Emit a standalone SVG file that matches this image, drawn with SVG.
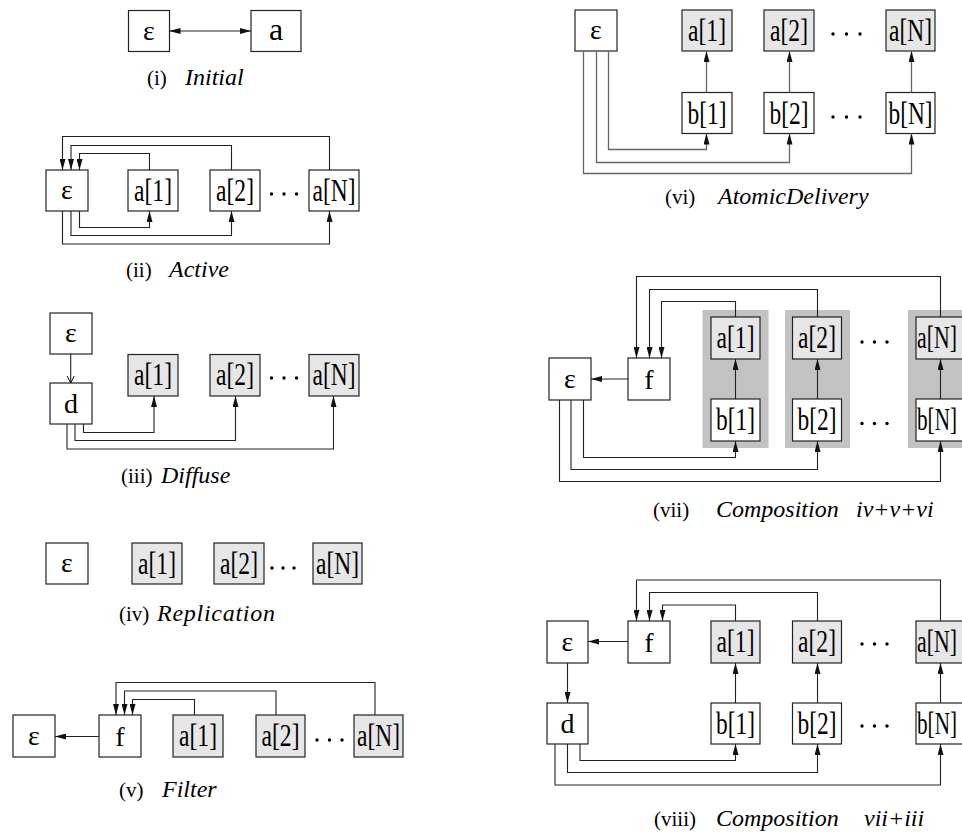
<svg xmlns="http://www.w3.org/2000/svg" width="962" height="835" viewBox="0 0 962 835">
<style>
.box{fill:#fff;stroke:#222;stroke-width:1.2}
.gbox{fill:#e6e6e6;stroke:#222;stroke-width:1.2}
.panel{fill:#c2c2c2}
.lbl{font-family:"Liberation Serif","Times New Roman",serif;font-size:31px;text-anchor:middle;fill:#000}
.sym{font-family:"Liberation Serif","Times New Roman",serif;font-size:28px;text-anchor:middle;fill:#000}
.cap{font-family:"Liberation Serif","Times New Roman",serif;font-size:21px;fill:#000}
.it{font-style:italic;font-size:24px}
.conn{fill:none;stroke:#222;stroke-width:1.1}
.conn2{fill:none;stroke:#666;stroke-width:1.3}
.dot{fill:#000}
</style>
<defs>
<marker id="ah" viewBox="0 0 11 6" refX="11" refY="3" markerWidth="11" markerHeight="6" markerUnits="userSpaceOnUse" orient="auto-start-reverse"><path d="M0,0 L11,3 L0,6 z" fill="#111"/></marker>
<marker id="oh" viewBox="0 0 8 8" refX="7.5" refY="4" markerWidth="8" markerHeight="8" markerUnits="userSpaceOnUse" orient="auto"><path d="M0.5,0.5 L7.5,4 L0.5,7.5" fill="none" stroke="#111" stroke-width="1"/></marker>
</defs>

<!-- (i) Initial -->
<g id="p1">
<g id="p1-eps"><rect class="box" x="128.5" y="10.5" width="41" height="41"/><text class="sym" x="149" y="40">ε</text></g>
<g id="p1-a"><rect class="box" x="251" y="10.5" width="50" height="41"/><text class="sym" x="276" y="40" style="font-size:32px">a</text></g>
<g id="p1-conn"><path class="conn" d="M169.5,31 H251" marker-start="url(#ah)" marker-end="url(#ah)"/></g>
<text class="cap" x="147" y="84.5">(i)<tspan class="it" x="185">Initial</tspan></text>
</g>

<!-- (ii) Active -->
<g id="p2">
<g id="p2-eps"><rect class="box" x="46" y="170" width="42" height="41"/><text class="sym" x="67" y="199">ε</text></g>
<g id="p2-a1"><rect class="box" x="128" y="170" width="50" height="41"/><text class="lbl" x="153" y="201" textLength="38" lengthAdjust="spacingAndGlyphs">a[1]</text></g>
<g id="p2-a2"><rect class="box" x="210" y="170" width="50" height="41"/><text class="lbl" x="235" y="201" textLength="38" lengthAdjust="spacingAndGlyphs">a[2]</text></g>
<g id="p2-aN"><rect class="box" x="309" y="170" width="50" height="41"/><text class="lbl" x="334" y="201" textLength="43" lengthAdjust="spacingAndGlyphs">a[N]</text></g>
<g id="p2-dots"><circle class="dot" cx="271.5" cy="194" r="1.7"/><circle class="dot" cx="284" cy="194" r="1.7"/><circle class="dot" cx="296.5" cy="194" r="1.7"/></g>
<g id="p2-conn">
<path class="conn" d="M329.5,170 V136.5 H62.5 V170" marker-end="url(#ah)"/>
<path class="conn" d="M231.5,170 V145.5 H71 V170" marker-end="url(#ah)"/>
<path class="conn" d="M149.5,170 V153.5 H79.5 V170" marker-end="url(#ah)"/>
<path class="conn" d="M79.5,211 V227.5 H149.5 V211" marker-end="url(#ah)"/>
<path class="conn" d="M71,211 V235.5 H231.5 V211" marker-end="url(#ah)"/>
<path class="conn" d="M62.5,211 V244 H329.5 V211" marker-end="url(#ah)"/>
</g>
<text class="cap" x="126" y="277">(ii)<tspan class="it" x="169">Active</tspan></text>
</g>

<!-- (iii) Diffuse -->
<g id="p3">
<g id="p3-eps"><rect class="box" x="50" y="313" width="42" height="41"/><text class="sym" x="71" y="342">ε</text></g>
<g id="p3-d"><rect class="box" x="50" y="383" width="42" height="41"/><text class="sym" x="71" y="413">d</text></g>
<g id="p3-a1"><rect class="gbox" x="128" y="354.5" width="50" height="41.5"/><text class="lbl" x="153" y="385" textLength="38" lengthAdjust="spacingAndGlyphs">a[1]</text></g>
<g id="p3-a2"><rect class="gbox" x="210" y="354.5" width="50" height="41.5"/><text class="lbl" x="235" y="385" textLength="38" lengthAdjust="spacingAndGlyphs">a[2]</text></g>
<g id="p3-aN"><rect class="gbox" x="309" y="354.5" width="50" height="41.5"/><text class="lbl" x="334" y="385" textLength="43" lengthAdjust="spacingAndGlyphs">a[N]</text></g>
<g id="p3-dots"><circle class="dot" cx="271.5" cy="378" r="1.7"/><circle class="dot" cx="284" cy="378" r="1.7"/><circle class="dot" cx="296.5" cy="378" r="1.7"/></g>
<g id="p3-conn">
<path class="conn" d="M70.7,354 V383" marker-end="url(#oh)"/>
<path class="conn" d="M83.5,424 V432.5 H154 V396" marker-end="url(#ah)"/>
<path class="conn" d="M75,424 V440.5 H235.5 V396" marker-end="url(#ah)"/>
<path class="conn" d="M67,424 V449 H333.5 V396" marker-end="url(#ah)"/>
</g>
<text class="cap" x="121" y="483">(iii)<tspan class="it" x="161">Diffuse</tspan></text>
</g>

<!-- (iv) Replication -->
<g id="p4">
<g id="p4-eps"><rect class="box" x="46" y="543" width="42" height="41"/><text class="sym" x="67" y="572">ε</text></g>
<g id="p4-a1"><rect class="gbox" x="132" y="543" width="50" height="41"/><text class="lbl" x="157" y="574" textLength="38" lengthAdjust="spacingAndGlyphs">a[1]</text></g>
<g id="p4-a2"><rect class="gbox" x="214" y="543" width="50" height="41"/><text class="lbl" x="239" y="574" textLength="38" lengthAdjust="spacingAndGlyphs">a[2]</text></g>
<g id="p4-aN"><rect class="gbox" x="313" y="543" width="49" height="41"/><text class="lbl" x="337.5" y="574" textLength="43" lengthAdjust="spacingAndGlyphs">a[N]</text></g>
<g id="p4-dots"><circle class="dot" cx="272" cy="568" r="1.7"/><circle class="dot" cx="283" cy="568" r="1.7"/><circle class="dot" cx="294" cy="568" r="1.7"/></g>
<text class="cap" x="119" y="621">(iv)<tspan class="it" x="157" textLength="118">Replication</tspan></text>
</g>

<!-- (v) Filter -->
<g id="p5">
<g id="p5-eps"><rect class="box" x="13" y="715" width="42" height="42"/><text class="sym" x="34" y="745">ε</text></g>
<g id="p5-f"><rect class="box" x="99" y="715" width="42" height="42"/><text class="sym" x="120" y="746">f</text></g>
<g id="p5-a1"><rect class="gbox" x="173" y="715" width="50" height="42"/><text class="lbl" x="198" y="746" textLength="38" lengthAdjust="spacingAndGlyphs">a[1]</text></g>
<g id="p5-a2"><rect class="gbox" x="256" y="715" width="49" height="42"/><text class="lbl" x="280.5" y="746" textLength="38" lengthAdjust="spacingAndGlyphs">a[2]</text></g>
<g id="p5-aN"><rect class="gbox" x="354" y="715" width="49" height="42"/><text class="lbl" x="378.5" y="746" textLength="43" lengthAdjust="spacingAndGlyphs">a[N]</text></g>
<g id="p5-dots"><circle class="dot" cx="317" cy="740" r="1.7"/><circle class="dot" cx="329.5" cy="740" r="1.7"/><circle class="dot" cx="342" cy="740" r="1.7"/></g>
<g id="p5-conn">
<path class="conn" d="M99,736.5 H55" marker-end="url(#ah)"/>
<path class="conn" d="M375,715 V682.5 H116 V715" marker-end="url(#ah)"/>
<path class="conn" d="M276,715 V691 H124.5 V715" marker-end="url(#ah)"/>
<path class="conn" d="M194.5,715 V699.5 H132.5 V715" marker-end="url(#ah)"/>
</g>
<text class="cap" x="119" y="797">(v)<tspan class="it" x="162">Filter</tspan></text>
</g>

<!-- (vi) AtomicDelivery -->
<g id="p6">
<g id="p6-eps"><rect class="box" x="575" y="10" width="42" height="41"/><text class="sym" x="596" y="39">ε</text></g>
<g id="p6-a1"><rect class="gbox" x="682" y="10" width="50" height="41"/><text class="lbl" x="707" y="41" textLength="38" lengthAdjust="spacingAndGlyphs">a[1]</text></g>
<g id="p6-a2"><rect class="gbox" x="764" y="10" width="50" height="41"/><text class="lbl" x="789" y="41" textLength="38" lengthAdjust="spacingAndGlyphs">a[2]</text></g>
<g id="p6-aN"><rect class="gbox" x="886" y="10" width="49" height="41"/><text class="lbl" x="910.5" y="41" textLength="43" lengthAdjust="spacingAndGlyphs">a[N]</text></g>
<g id="p6-b1"><rect class="box" x="682" y="92.5" width="50" height="41"/><text class="lbl" x="707" y="123.5" textLength="39" lengthAdjust="spacingAndGlyphs">b[1]</text></g>
<g id="p6-b2"><rect class="box" x="764" y="92.5" width="50" height="41"/><text class="lbl" x="789" y="123.5" textLength="39" lengthAdjust="spacingAndGlyphs">b[2]</text></g>
<g id="p6-bN"><rect class="box" x="886" y="92.5" width="49" height="41"/><text class="lbl" x="910.5" y="123.5" textLength="44" lengthAdjust="spacingAndGlyphs">b[N]</text></g>
<g id="p6-dots"><circle class="dot" cx="833" cy="34" r="1.7"/><circle class="dot" cx="846.5" cy="34" r="1.7"/><circle class="dot" cx="860" cy="34" r="1.7"/><circle class="dot" cx="833" cy="117" r="1.7"/><circle class="dot" cx="846.5" cy="117" r="1.7"/><circle class="dot" cx="860" cy="117" r="1.7"/></g>
<g id="p6-conn">
<path class="conn2" d="M706.5,92.5 V51" marker-end="url(#ah)"/>
<path class="conn2" d="M789.5,92.5 V51" marker-end="url(#ah)"/>
<path class="conn2" d="M911.5,92.5 V51" marker-end="url(#ah)"/>
<path class="conn2" d="M608.5,51 V149.5 H706.5 V133.5" marker-end="url(#ah)"/>
<path class="conn2" d="M596.5,51 V162.5 H789.5 V133.5" marker-end="url(#ah)"/>
<path class="conn2" d="M583.5,51 V173.5 H911.5 V133.5" marker-end="url(#ah)"/>
</g>
<text class="cap" x="665" y="204">(vi)<tspan class="it" x="718">AtomicDelivery</tspan></text>
</g>

<!-- (vii) Composition iv+v+vi -->
<g id="p7">
<g id="p7-panels"><rect class="panel" x="702.5" y="310" width="66" height="138"/><rect class="panel" x="785" y="310" width="65" height="138"/><rect class="panel" x="908" y="310" width="60" height="138"/></g>
<g id="p7-eps"><rect class="box" x="549" y="358" width="42" height="42"/><text class="sym" x="570" y="388">ε</text></g>
<g id="p7-f"><rect class="box" x="628" y="358" width="42" height="42"/><text class="sym" x="649" y="389">f</text></g>
<g id="p7-a1"><rect class="gbox" x="711" y="317" width="49" height="42"/><text class="lbl" x="735.5" y="348" textLength="38" lengthAdjust="spacingAndGlyphs">a[1]</text></g>
<g id="p7-a2"><rect class="gbox" x="792.5" y="317" width="49" height="42"/><text class="lbl" x="817" y="348" textLength="38" lengthAdjust="spacingAndGlyphs">a[2]</text></g>
<g id="p7-aN"><rect class="gbox" x="916" y="317" width="50" height="42"/><text class="lbl" x="937" y="348" textLength="40" lengthAdjust="spacingAndGlyphs">a[N]</text></g>
<g id="p7-b1"><rect class="box" x="711" y="399" width="49" height="42"/><text class="lbl" x="735.5" y="430" textLength="39" lengthAdjust="spacingAndGlyphs">b[1]</text></g>
<g id="p7-b2"><rect class="box" x="792.5" y="399" width="49" height="42"/><text class="lbl" x="817" y="430" textLength="39" lengthAdjust="spacingAndGlyphs">b[2]</text></g>
<g id="p7-bN"><rect class="box" x="916" y="399" width="50" height="42"/><text class="lbl" x="937" y="430" textLength="40" lengthAdjust="spacingAndGlyphs">b[N]</text></g>
<g id="p7-dots"><circle class="dot" cx="862" cy="342" r="1.7"/><circle class="dot" cx="874.5" cy="342" r="1.7"/><circle class="dot" cx="887" cy="342" r="1.7"/><circle class="dot" cx="862" cy="423.5" r="1.7"/><circle class="dot" cx="874.5" cy="423.5" r="1.7"/><circle class="dot" cx="887" cy="423.5" r="1.7"/></g>
<g id="p7-conn">
<path class="conn" d="M628,379 H591" marker-end="url(#ah)"/>
<path class="conn" d="M735.5,399 V359" marker-end="url(#ah)"/>
<path class="conn" d="M817.5,399 V359" marker-end="url(#ah)"/>
<path class="conn" d="M940.5,399 V359" marker-end="url(#ah)"/>
<path class="conn" d="M940.5,317 V276.5 H636.5 V358" marker-end="url(#ah)"/>
<path class="conn" d="M817.5,317 V289.5 H649.5 V358" marker-end="url(#ah)"/>
<path class="conn" d="M735.5,317 V301.5 H661.5 V358" marker-end="url(#ah)"/>
<path class="conn" d="M583.5,400 V457.5 H735.5 V441" marker-end="url(#ah)"/>
<path class="conn" d="M571,400 V469.5 H817.5 V441" marker-end="url(#ah)"/>
<path class="conn" d="M559.5,400 V481.5 H940.5 V441" marker-end="url(#ah)"/>
</g>
<text class="cap" x="653" y="517">(vii)<tspan class="it" x="716">Composition</tspan><tspan class="it" x="856">iv+v+vi</tspan></text>
</g>

<!-- (viii) Composition vii+iii -->
<g id="p8">
<g id="p8-eps"><rect class="box" x="547" y="621" width="41" height="42"/><text class="sym" x="567.5" y="651">ε</text></g>
<g id="p8-f"><rect class="box" x="628" y="621" width="42" height="42"/><text class="sym" x="649" y="652">f</text></g>
<g id="p8-a1"><rect class="gbox" x="711" y="621" width="49" height="42"/><text class="lbl" x="735.5" y="652" textLength="38" lengthAdjust="spacingAndGlyphs">a[1]</text></g>
<g id="p8-a2"><rect class="gbox" x="792.5" y="621" width="49" height="42"/><text class="lbl" x="817" y="652" textLength="38" lengthAdjust="spacingAndGlyphs">a[2]</text></g>
<g id="p8-aN"><rect class="gbox" x="916" y="621" width="50" height="42"/><text class="lbl" x="937" y="652" textLength="40" lengthAdjust="spacingAndGlyphs">a[N]</text></g>
<g id="p8-d"><rect class="box" x="547" y="703" width="41" height="41"/><text class="sym" x="567.5" y="733">d</text></g>
<g id="p8-b1"><rect class="box" x="711" y="703" width="49" height="41"/><text class="lbl" x="735.5" y="734" textLength="39" lengthAdjust="spacingAndGlyphs">b[1]</text></g>
<g id="p8-b2"><rect class="box" x="792.5" y="703" width="49" height="41"/><text class="lbl" x="817" y="734" textLength="39" lengthAdjust="spacingAndGlyphs">b[2]</text></g>
<g id="p8-bN"><rect class="box" x="916" y="703" width="50" height="41"/><text class="lbl" x="937" y="734" textLength="40" lengthAdjust="spacingAndGlyphs">b[N]</text></g>
<g id="p8-dots"><circle class="dot" cx="862" cy="644" r="1.7"/><circle class="dot" cx="874.5" cy="644" r="1.7"/><circle class="dot" cx="887" cy="644" r="1.7"/><circle class="dot" cx="862" cy="726" r="1.7"/><circle class="dot" cx="874.5" cy="726" r="1.7"/><circle class="dot" cx="887" cy="726" r="1.7"/></g>
<g id="p8-conn">
<path class="conn" d="M628,641.5 H588" marker-end="url(#ah)"/>
<path class="conn" d="M567.5,663 V703" marker-end="url(#ah)"/>
<path class="conn" d="M735.5,703 V663" marker-end="url(#ah)"/>
<path class="conn" d="M817.5,703 V663" marker-end="url(#ah)"/>
<path class="conn" d="M940.5,703 V663" marker-end="url(#ah)"/>
<path class="conn" d="M940.5,621 V580 H636.5 V621" marker-end="url(#ah)"/>
<path class="conn" d="M817.5,621 V592.5 H649.5 V621" marker-end="url(#ah)"/>
<path class="conn" d="M735.5,621 V605 H662.5 V621" marker-end="url(#ah)"/>
<path class="conn" d="M580,744 V760.5 H735.5 V744" marker-end="url(#ah)"/>
<path class="conn" d="M567.5,744 V772.5 H817.5 V744" marker-end="url(#ah)"/>
<path class="conn" d="M555,744 V785 H940.5 V744" marker-end="url(#ah)"/>
</g>
<text class="cap" x="654" y="826">(viii)<tspan class="it" x="716">Composition</tspan><tspan class="it" x="864">vii+iii</tspan></text>
</g>
</svg>
